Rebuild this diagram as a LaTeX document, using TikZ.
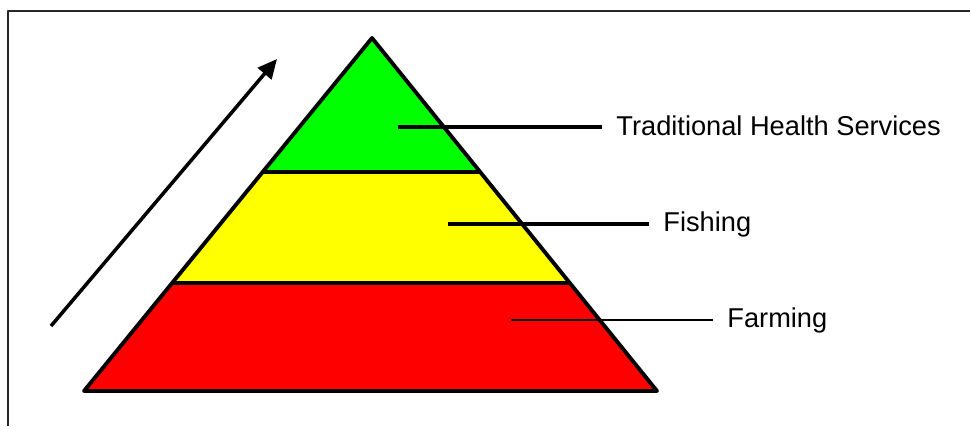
\documentclass[tikz,border=0pt]{standalone}
\usepackage{fontspec}
\setmainfont{Liberation Sans}
\usetikzlibrary{arrows.meta,calc}
\definecolor{tiergreen}{RGB}{0,255,0}
\definecolor{tieryellow}{RGB}{255,255,0}
\definecolor{tierred}{RGB}{255,0,0}

\tikzset{
  leader/.style={line width=1.8pt},
  edge/.style={line width=2.2pt},
  tierlabel/.style={anchor=west,font=\fontsize{15.5}{18}\selectfont,inner xsep=8pt,inner ysep=0pt,
    text height=0.73em,text depth=0.25em},
}

\begin{document}
\begin{tikzpicture}[x=0.02cm,y=-0.02cm,line join=round]
\useasboundingbox (0,0) rectangle (970,426);
% frame, only top and left edges show
\coordinate (frame) at (8,11);
\draw[line width=1.2pt,black!85] (8,426) -- (frame) -- (970,11);
% pyramid corners and tier boundaries
\coordinate (apex) at (372,38);
\coordinate (bl) at (84,391);
\coordinate (br) at (657,391);
\coordinate (gl) at ($(apex)!0.3796!(bl)$);
\coordinate (gr) at ($(apex)!0.3796!(br)$);
\coordinate (yl) at ($(apex)!0.694!(bl)$);
\coordinate (yr) at ($(apex)!0.694!(br)$);
\fill[tiergreen] (apex) -- (gl) -- (gr) -- cycle;
\fill[tieryellow] (gl) -- (yl) -- (yr) -- (gr) -- cycle;
\fill[tierred] (yl) -- (bl) -- (br) -- (yr) -- cycle;
% labels and leader lines
\node[tierlabel] (health) at (602,127) {\raisebox{-2.5pt}{Traditional Health Services}};
\node[tierlabel] (fishing) at (649,224) {\raisebox{-2pt}{Fishing}};
\node[tierlabel] (farming) at (713,320) {\raisebox{-2pt}{Farming}};
\coordinate (healthin) at (398,127);
\coordinate (fishingin) at (448,224);
\coordinate (farmingin) at (511,320);
\draw[leader] (healthin) -- (health.west);
\draw[leader] (fishingin) -- (fishing.west);
\draw[leader,line width=1.5pt] (farmingin) -- (farming.west);
% outline
\draw[edge] (apex) -- (bl) -- (br) -- cycle;
\draw[edge] (gl) -- (gr);
\draw[edge] (yl) -- (yr);
% arrow
\coordinate (arrtail) at (51,326);
\coordinate (arrhead) at (277,59);
\draw[line width=2pt,-{Triangle[length=11pt,width=10pt]}] (arrtail) -- (arrhead);
\end{tikzpicture}
\end{document}
